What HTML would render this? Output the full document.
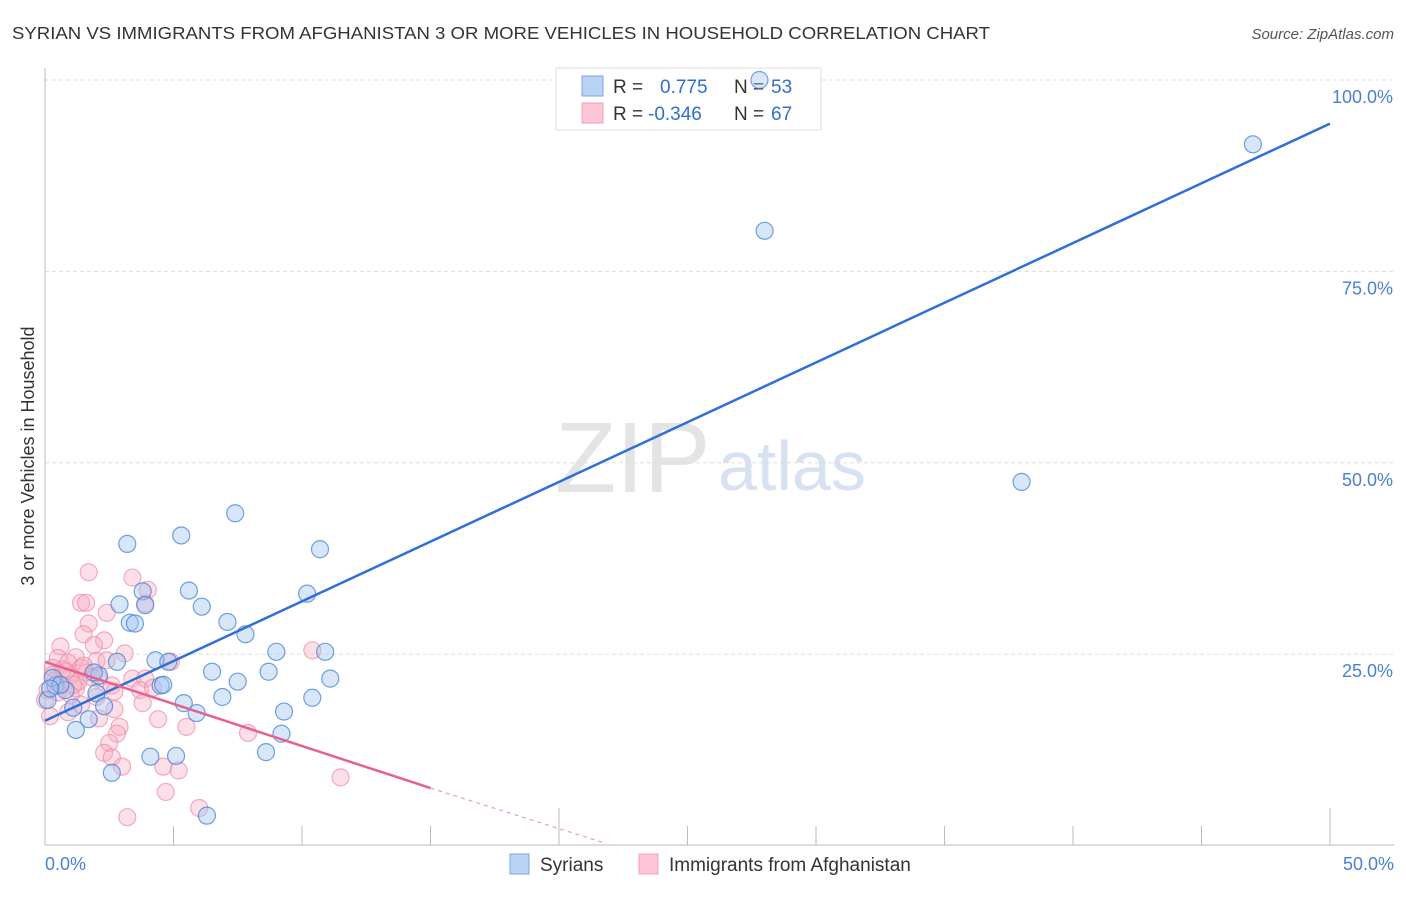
<!DOCTYPE html>
<html><head><meta charset="utf-8"><style>
body{margin:0;background:#fff;font-family:"Liberation Sans",sans-serif;}
svg text{font-family:"Liberation Sans",sans-serif;}
</style></head><body>
<svg width="1406" height="892" id="chart">
<text x="12" y="39" font-size="17.5" fill="#333" textLength="978" lengthAdjust="spacingAndGlyphs">SYRIAN VS IMMIGRANTS FROM AFGHANISTAN 3 OR MORE VEHICLES IN HOUSEHOLD CORRELATION CHART</text>
<text x="1394" y="39" font-size="15" fill="#555" font-style="italic" text-anchor="end">Source: ZipAtlas.com</text>
<text transform="translate(34,456) rotate(-90)" font-size="18" fill="#333" text-anchor="middle">3 or more Vehicles in Household</text>
<g>
<text x="555" y="492" font-size="100" fill="#e4e4e4" font-family="Liberation Serif,serif">ZIP</text>
<text x="718" y="490" font-size="70" fill="#d6e2f2">atlas</text>
</g>
<g id="grid"></g>
<g id="axes"></g>
<g>
<rect x="556" y="68" width="265" height="62" fill="#fff" stroke="#ddd"/>
<rect x="582" y="76" width="21" height="20" fill="#b8d3f5" stroke="#7aa6e0"/>
<rect x="582" y="103" width="21" height="20" fill="#fcc6d6" stroke="#f0a0b8"/>
<text x="613" y="93" font-size="19" fill="#333">R =</text>
<text x="660" y="93" font-size="19" fill="#2f6fcc">0.775</text>
<text x="734" y="93" font-size="19" fill="#333">N =</text>
<text x="771" y="93" font-size="19" fill="#2f6fcc">53</text>
<text x="613" y="120" font-size="19" fill="#333">R =</text>
<text x="648" y="120" font-size="19" fill="#2f6fcc">-0.346</text>
<text x="734" y="120" font-size="19" fill="#333">N =</text>
<text x="771" y="120" font-size="19" fill="#2f6fcc">67</text>
</g>
<g id="marks"></g>
<g>
<rect x="510" y="854" width="19" height="20" fill="#b8d3f5" stroke="#7aa6e0"/>
<text x="540" y="871" font-size="19" fill="#333">Syrians</text>
<rect x="639" y="854" width="19" height="20" fill="#fcc6d6" stroke="#f0a0b8"/>
<text x="669" y="871" font-size="19" fill="#333">Immigrants from Afghanistan</text>
</g>
</svg>
<script>
const yTicks=[25,50,75,100];
const yTickLabels=["25.0%","50.0%","75.0%","100.0%"];
const xTickLabels=["0.0%","50.0%"];
const syrX=[27.8,47.0,28.0,38.0,7.4,5.3,3.2,10.7,3.8,5.6,10.2,2.9,3.9,6.1,3.3,3.5,7.1,7.8,9.0,10.9,2.8,4.3,4.8,6.5,8.7,2.1,7.5,11.1,4.5,4.6,0.4,0.8,2.0,6.9,10.4,5.4,5.9,2.3,1.1,9.3,1.7,9.2,1.2,4.1,5.1,8.6,2.6,6.3,0.1,0.3,0.6,1.9,0.2];
const syrY=[100,91.6,80.3,47.5,43.4,40.5,39.4,38.7,33.2,33.3,32.9,31.5,31.4,31.2,29.1,29.0,29.2,27.6,25.3,25.3,24.0,24.2,24.0,22.7,22.7,22.2,21.4,21.8,20.9,21.0,20.9,20.3,19.9,19.4,19.3,18.6,17.3,18.2,18.0,17.5,16.5,14.6,15.1,11.6,11.7,12.2,9.5,3.9,19.0,21.9,21.0,22.6,20.5];
const afgX=[1.7,3.4,1.4,1.6,2.4,3.9,4.0,1.7,1.5,2.3,0.6,1.9,0.5,1.2,2.0,3.1,0.9,0.3,1.4,1.0,1.6,2.1,3.4,3.9,4.9,10.4,0.1,0.2,0.6,1.2,2.6,3.7,4.2,2.7,0.9,1.4,2.7,3.8,2.1,4.4,5.5,2.9,2.8,2.5,2.3,2.6,3.0,4.6,5.2,4.7,3.2,6.0,7.9,11.5,0.0,0.4,0.8,1.3,2.0,1.0,0.7,1.1,1.8,0.3,2.4,0.5,1.5];
const afgY=[35.7,35.0,31.7,31.7,30.4,31.6,33.4,29.0,27.6,26.8,26.0,26.2,24.5,24.6,24.1,25.1,23.9,23.2,23.2,22.2,22.6,21.8,21.8,21.8,24.0,25.5,20.3,16.9,20.9,20.5,20.9,20.3,20.6,20.1,17.4,18.4,17.8,18.6,16.6,16.5,15.5,15.5,14.6,13.4,12.1,11.5,10.3,10.3,9.8,7.0,3.7,4.9,14.7,8.9,19.0,21.6,22.7,21.4,19.4,19.7,23.0,21.0,22.0,22.3,24.2,20.0,23.5];
const syrLine=[16.3,94.3];
const afgLine=[24.0,7.5,0.3];
const afgLineX=[0,15.0,21.8];
const X=v=>45+v*25.7, Y=v=>845.5-v*7.655;
const NS="http://www.w3.org/2000/svg";
function mk(tag,attrs,parent){const e=document.createElementNS(NS,tag);for(const k in attrs)e.setAttribute(k,attrs[k]);document.getElementById(parent).appendChild(e);return e;}
yTicks.forEach((t,i)=>{
 const l=mk('line',{x1:45,x2:1394,y1:Y(t),y2:Y(t),stroke:'#ddd','stroke-dasharray':'4,3'},'grid');
 
 
 const tx=mk('text',{x:1393,y:Y(t)+23,'font-size':18,fill:'#4a7fd4','text-anchor':'end'},'grid');
 tx.textContent=yTickLabels[i];
 
 
});
let a=mk('line',{x1:45,x2:45,y1:68,y2:845,stroke:'#bbb'},'axes');


a=mk('line',{x1:45,x2:1394,y1:845,y2:845,stroke:'#bbb'},'axes');


for(let i=1;i<=10;i++){
 const xv=i*5;
 const t=mk('line',{x1:X(xv),x2:X(xv),y1:(i==4||i==10)?808:826,y2:845,stroke:'#bbb'},'axes');
 
 
}
[[0,'start',45],[50,'end',1394]].forEach((d,i)=>{
 const t=mk('text',{x:d[2],y:870,'font-size':18,fill:'#4a7fd4','text-anchor':d[1]},'axes');
 t.textContent=xTickLabels[i];
 
 
});
afgX.forEach((v,i)=>{
 const c=mk('circle',{cx:X(v),cy:Y(afgY[i]),r:8.5,fill:'rgba(247,170,192,0.38)',stroke:'rgba(238,140,170,0.7)','stroke-width':1.2},'marks');
 
 
});
syrX.forEach((v,i)=>{
 const c=mk('circle',{cx:X(v),cy:Y(syrY[i]),r:8.5,fill:'rgba(160,196,240,0.42)',stroke:'rgba(70,130,215,0.75)','stroke-width':1.2},'marks');
 
 
});
let ln=mk('line',{x1:X(0),y1:Y(syrLine[0]),x2:X(50),y2:Y(syrLine[1]),stroke:'#2f6fd6','stroke-width':2.5},'marks');


ln=mk('line',{x1:X(afgLineX[0]),y1:Y(afgLine[0]),x2:X(afgLineX[1]),y2:Y(afgLine[1]),stroke:'#e8618c','stroke-width':2.5},'marks');


ln=mk('line',{x1:X(afgLineX[1]),y1:Y(afgLine[1]),x2:X(afgLineX[2]),y2:Y(afgLine[2]),stroke:'#e8a0b8','stroke-width':1.2,'stroke-dasharray':'4,4'},'marks');


</script>
</body></html>
